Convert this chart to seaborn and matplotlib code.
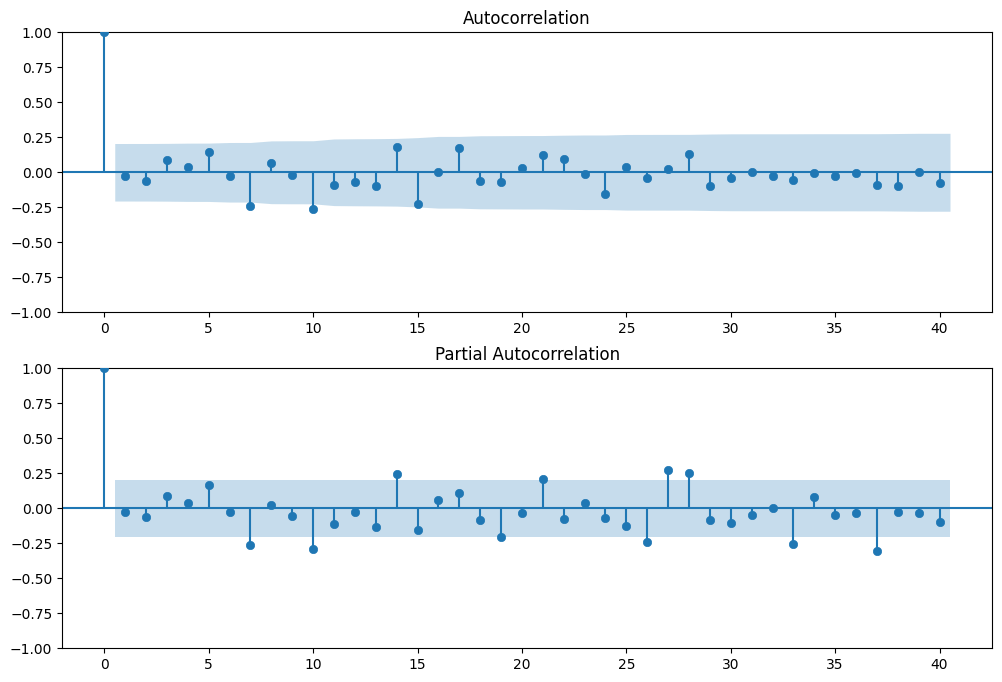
import numpy as np
import pandas as pd
import matplotlib
matplotlib.use("Agg")
import matplotlib.pyplot as plt
import seaborn as sns

lags = list(range(41))
acf_vals = [1.0, -0.026, -0.062, 0.091, 0.038, 0.148, -0.026, -0.242, 0.067, -0.019,
            -0.265, -0.088, -0.069, -0.098, 0.182, -0.227, 0.005, 0.170, -0.062, -0.069,
            0.033, 0.120, 0.098, -0.012, -0.155, 0.038, -0.038, 0.026, 0.127, -0.098,
            -0.038, 0.005, -0.026, -0.055, -0.005, -0.026, -0.005, -0.091, -0.098, 0.002,
            -0.077]
pacf_vals = [1.0, -0.026, -0.062, 0.091, 0.038, 0.167, -0.026, -0.263, 0.026, -0.055,
             -0.292, -0.112, -0.026, -0.134, 0.246, -0.155, 0.060, 0.110, -0.084, -0.206,
             -0.032, 0.210, -0.077, 0.038, -0.069, -0.127, -0.242, 0.275, 0.253, -0.084,
             -0.105, -0.048, 0.002, -0.256, 0.081, -0.048, -0.031, -0.306, -0.026, -0.031,
             -0.098]
n_obs = 91
z_crit = 1.96
titles = ["Autocorrelation", "Partial Autocorrelation"]

C0 = "#1f77b4"

fig = plt.figure(figsize=(10.02, 6.82), dpi=100)
ax1 = fig.add_axes([0.0619, 0.5421, 0.9284, 0.4106])
ax2 = fig.add_axes([0.0619, 0.0494, 0.9284, 0.4106])


def band_acf(vals):
    v = np.asarray(vals)
    var = np.ones(len(v)) / n_obs
    var[0] = 0
    var[1] = 1.0 / n_obs
    var[2:] = (1 + 2 * np.cumsum(v[1:-1] ** 2)) / n_obs
    return z_crit * np.sqrt(var)


def band_pacf(vals):
    return np.full(len(vals), z_crit / np.sqrt(n_obs))


def draw(ax, vals, band, title):
    df = pd.DataFrame({"lag": lags, "value": vals})
    ax.vlines(df["lag"], 0, df["value"], colors=C0, linewidth=1.5)
    sns.scatterplot(data=df, x="lag", y="value", ax=ax, color=C0, s=36,
                    edgecolor=C0, linewidth=0.5, zorder=3, clip_on=True)
    ax.axhline(0, color=C0, linewidth=1.5)
    bl = np.array(lags[1:], dtype=float)
    bl[0] -= 0.5
    bl[-1] += 0.5
    b = band[1:]
    ax.fill_between(bl, -b, b, color=C0, alpha=0.25, linewidth=0)
    ax.set_xlim(-2.025, 42.525)
    ax.set_ylim(-1, 1)
    ax.set_yticks([-1, -0.75, -0.5, -0.25, 0, 0.25, 0.5, 0.75, 1.0])
    ax.set_yticklabels(["−1.00", "−0.75", "−0.50", "−0.25", "0.00", "0.25", "0.50", "0.75", "1.00"])
    ax.set_xticks([0, 5, 10, 15, 20, 25, 30, 35, 40])
    ax.set_xlabel("")
    ax.set_ylabel("")
    ax.set_title(title, fontsize=12)


draw(ax1, acf_vals, band_acf(acf_vals), titles[0])
draw(ax2, pacf_vals, band_pacf(pacf_vals), titles[1])

fig.savefig("out.png", dpi=100)
